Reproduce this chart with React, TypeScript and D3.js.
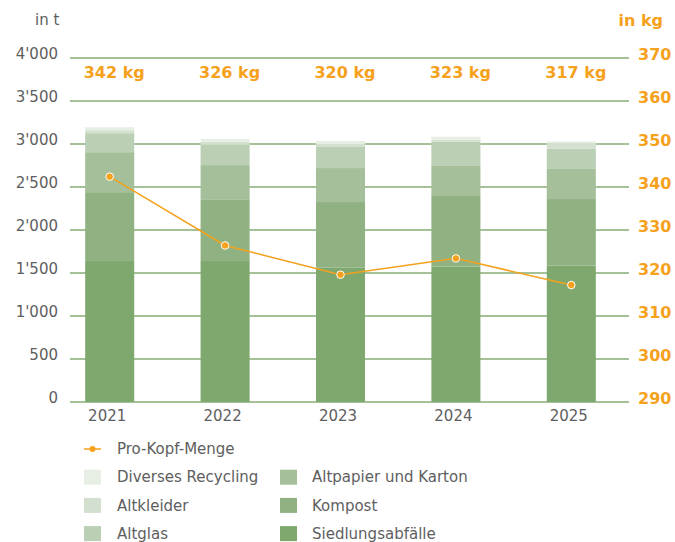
import React, { useRef, useEffect } from 'react';
import * as d3 from 'd3';

const years = ['2021', '2022', '2023', '2024', '2025'];

// tonnes per category, bottom to top
const siedlungsabfaelle = [1640, 1640, 1565, 1575, 1585];
const kompost = [800, 710, 760, 820, 775];
const altpapier = [465, 405, 395, 350, 350];
const altglas = [220, 235, 245, 280, 235];
const altkleider = [35, 35, 35, 25, 60];
const diverses = [35, 35, 35, 35, 25];

// kg per head
const proKopf = [342.4, 326.4, 319.6, 323.4, 317.2];

const leftTicks = [0, 500, 1000, 1500, 2000, 2500, 3000, 3500, 4000];
const rightTicks = [290, 300, 310, 320, 330, 340, 350, 360, 370];

const seriesNames = ['Siedlungsabfälle', 'Kompost', 'Altpapier und Karton', 'Altglas', 'Altkleider', 'Diverses Recycling'];
const seriesColors = ['#7fa86e', '#90b283', '#a4bf99', '#bbcfb5', '#d3dfcf', '#e7eee4'];

const FONT = '"DejaVu Sans", Verdana, sans-serif';
const GREY = '#5e5e5e';
const ORANGE = '#f6a11c';
const GRID = '#86ad76';

const App = () => {
  const svgRef = useRef(null);

  useEffect(() => {
    const width = 675;
    const height = 542;
    const plotLeft = 70;
    const plotRight = 629;
    const plotTop = 58;
    const plotBottom = 402;

    const svg = d3.select(svgRef.current);
    svg.selectAll('*').remove();
    svg.attr('width', width).attr('height', height).style('font-family', FONT);

    const data = years.map((y, i) => ({
      year: y,
      s0: siedlungsabfaelle[i],
      s1: kompost[i],
      s2: altpapier[i],
      s3: altglas[i],
      s4: altkleider[i],
      s5: diverses[i],
    }));
    const keys = ['s0', 's1', 's2', 's3', 's4', 's5'];

    const xScale = d3.scaleBand()
      .domain(years)
      .range([52, 629])
      .paddingInner(0.575)
      .paddingOuter(0.2875);
    const yLeft = d3.scaleLinear().domain([0, 4000]).range([plotBottom, plotTop]);
    const yRight = d3.scaleLinear().domain([290, 370]).range([plotBottom, plotTop]);
    const cx = (y: string) => xScale(y) + xScale.bandwidth() / 2;

    // gridlines
    svg.append('g')
      .selectAll('line')
      .data(leftTicks)
      .join('line')
      .attr('x1', plotLeft)
      .attr('x2', plotRight)
      .attr('y1', d => yLeft(d))
      .attr('y2', d => yLeft(d))
      .attr('stroke', GRID)
      .attr('stroke-width', 1.3);

    // stacked bars
    const stacked = d3.stack().keys(keys)(data);
    svg.append('g')
      .selectAll('g')
      .data(stacked)
      .join('g')
      .attr('fill', (d, i) => seriesColors[i])
      .selectAll('rect')
      .data(d => d)
      .join('rect')
      .attr('x', d => xScale(d.data.year))
      .attr('width', xScale.bandwidth())
      .attr('y', d => yLeft(d[1]))
      .attr('height', d => yLeft(d[0]) - yLeft(d[1]));

    // left axis labels
    svg.append('g')
      .selectAll('text')
      .data(leftTicks)
      .join('text')
      .attr('x', 58)
      .attr('y', d => yLeft(d) - 4)
      .attr('dy', '0.35em')
      .attr('text-anchor', 'end')
      .attr('font-size', 15)
      .attr('fill', GREY)
      .text(d => d3.format(',')(d).replace(/,/g, "'"));

    // right axis labels
    svg.append('g')
      .selectAll('text')
      .data(rightTicks)
      .join('text')
      .attr('x', 638)
      .attr('y', d => yRight(d) - 4)
      .attr('dy', '0.35em')
      .attr('font-size', 16)
      .attr('font-weight', 'bold')
      .attr('fill', ORANGE)
      .text(d => d);

    svg.append('text')
      .attr('x', 35).attr('y', 20).attr('dy', '0.35em')
      .attr('font-size', 15).attr('fill', GREY)
      .text('in t');

    svg.append('text')
      .attr('x', 663).attr('y', 20).attr('dy', '0.35em')
      .attr('text-anchor', 'end')
      .attr('font-size', 16).attr('font-weight', 'bold').attr('fill', ORANGE)
      .text('in kg');

    // x labels
    svg.append('g')
      .selectAll('text')
      .data(years)
      .join('text')
      .attr('x', d => cx(d) - 2.5)
      .attr('y', 416)
      .attr('dy', '0.35em')
      .attr('text-anchor', 'middle')
      .attr('font-size', 15)
      .attr('fill', GREY)
      .text(d => d);

    // per capita value labels
    svg.append('g')
      .selectAll('text')
      .data(proKopf)
      .join('text')
      .attr('x', (d, i) => cx(years[i]) + 4.5)
      .attr('y', 72)
      .attr('dy', '0.35em')
      .attr('text-anchor', 'middle')
      .attr('font-size', 16)
      .attr('font-weight', 'bold')
      .attr('fill', ORANGE)
      .text(d => `${Math.round(d)} kg`);

    // per capita line
    const line = d3.line()
      .x((d, i) => cx(years[i]))
      .y(d => yRight(d));

    svg.append('path')
      .datum(proKopf)
      .attr('fill', 'none')
      .attr('stroke', ORANGE)
      .attr('stroke-width', 1.5)
      .attr('d', line);

    svg.append('g')
      .selectAll('circle')
      .data(proKopf)
      .join('circle')
      .attr('cx', (d, i) => cx(years[i]))
      .attr('cy', d => yRight(d))
      .attr('r', 3.8)
      .attr('fill', ORANGE)
      .attr('stroke', '#fff')
      .attr('stroke-width', 1);

    // legend
    const legend = svg.append('g');
    const lineRow = legend.append('g').attr('transform', 'translate(84,449)');
    lineRow.append('line').attr('x1', 0).attr('x2', 17).attr('stroke', ORANGE).attr('stroke-width', 1.5);
    lineRow.append('circle').attr('cx', 8.5).attr('r', 3).attr('fill', ORANGE);
    lineRow.append('text').attr('x', 33).attr('dy', '0.35em')
      .attr('font-size', 15).attr('fill', GREY).text('Pro-Kopf-Menge');

    const legendItems = [
      { name: seriesNames[5], color: seriesColors[5], col: 0, row: 1 },
      { name: seriesNames[4], color: seriesColors[4], col: 0, row: 2 },
      { name: seriesNames[3], color: seriesColors[3], col: 0, row: 3 },
      { name: seriesNames[2], color: seriesColors[2], col: 1, row: 1 },
      { name: seriesNames[1], color: seriesColors[1], col: 1, row: 2 },
      { name: seriesNames[0], color: seriesColors[0], col: 1, row: 3 },
    ];
    const items = legend.selectAll('g.item')
      .data(legendItems)
      .join('g')
      .attr('class', 'item')
      .attr('transform', d => `translate(${d.col ? 280 : 84},${449 + d.row * 28.2})`);
    items.append('rect')
      .attr('x', 0).attr('y', -7.5).attr('width', 17).attr('height', 15)
      .attr('fill', d => d.color);
    items.append('text')
      .attr('x', d => (d.col ? 32 : 33))
      .attr('dy', '0.35em')
      .attr('font-size', 15)
      .attr('fill', GREY)
      .text(d => d.name);
  }, []);

  return (
    <div style={{ position: 'absolute', left: 0, top: 0 }}>
      <svg ref={svgRef} style={{ display: 'block' }}></svg>
    </div>
  );
};

export default App;
